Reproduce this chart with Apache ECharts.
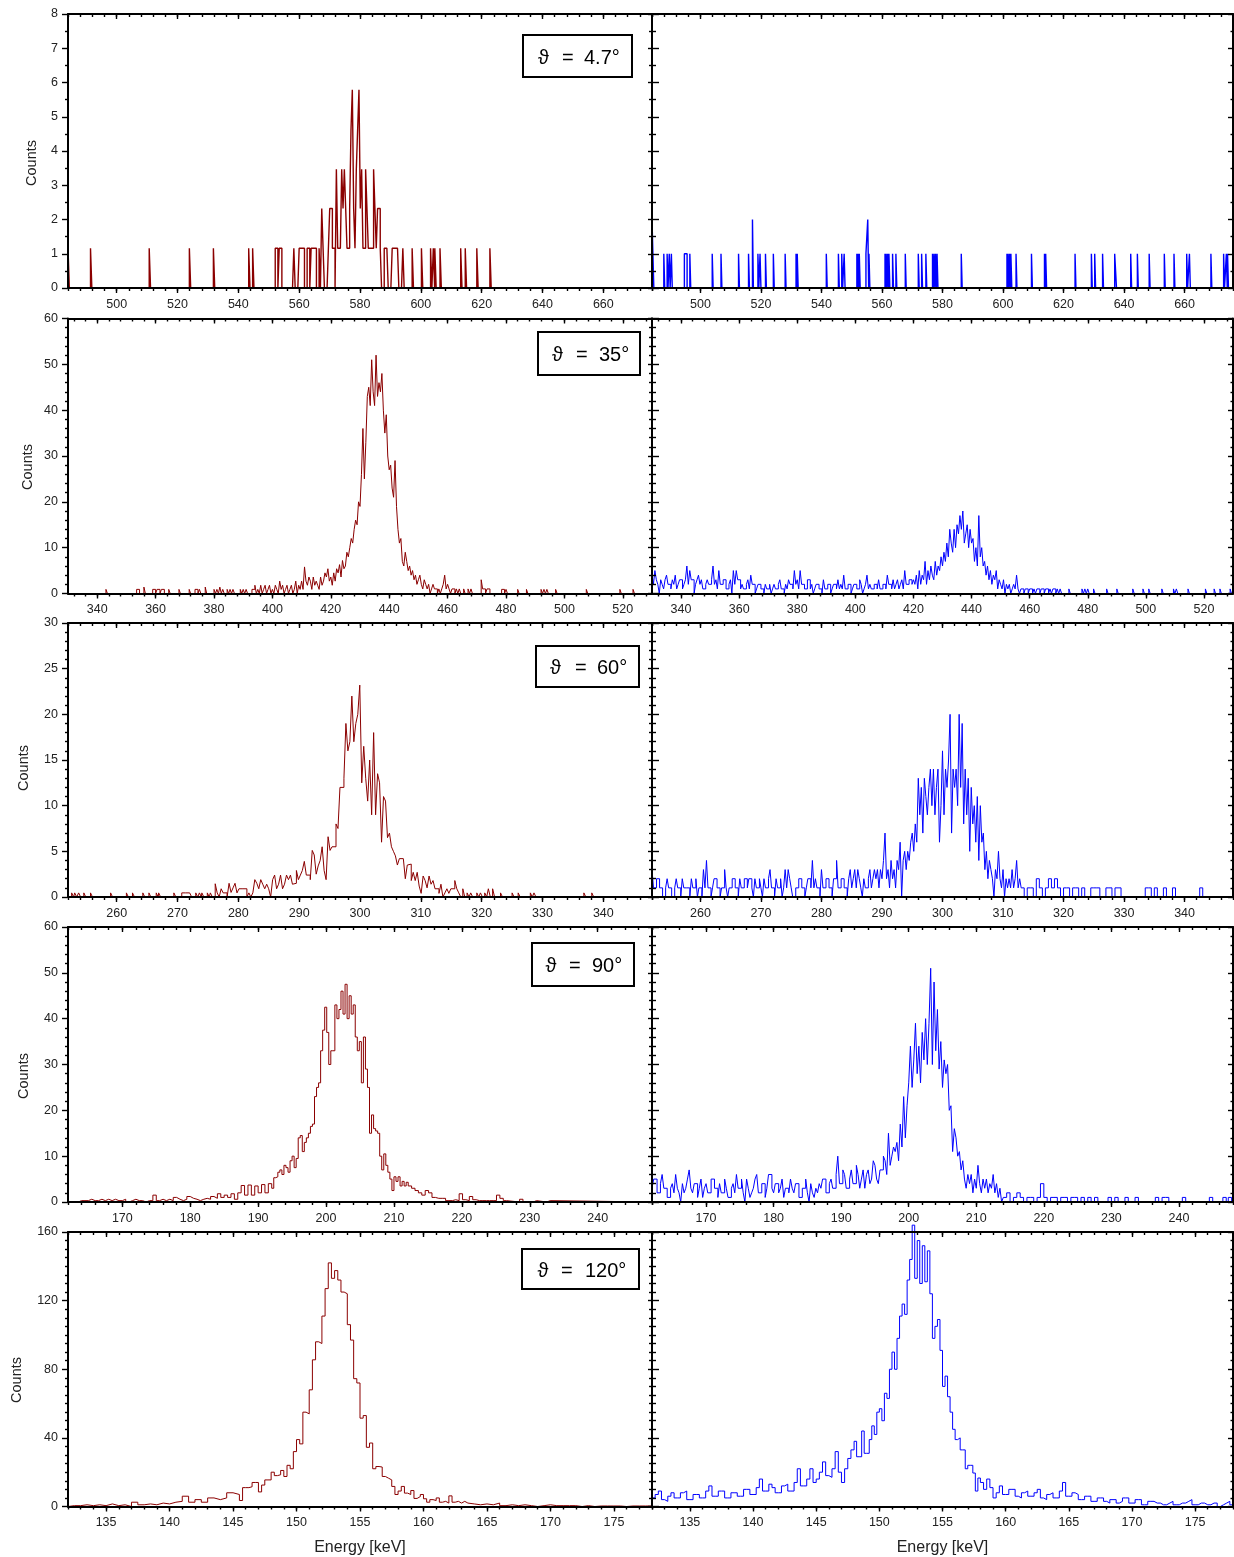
<!DOCTYPE html>
<html><head><meta charset="utf-8">
<script src="https://cdn.jsdelivr.net/npm/echarts@6/dist/echarts.min.js"></script>
<style>html,body{margin:0;padding:0;background:#fff}#c{width:1234px;height:1557px}</style>
</head><body><div id="c"></div>
<script>
const FONT = "'Liberation Sans', Arial, Helvetica, sans-serif";
const RED = '#8b0000', BLUE = '#0000ff';

// ---------- tick labels ----------
const r1_xticks = [500,520,540,560,580,600,620,640,660];
const r2_xticks = [340,360,380,400,420,440,460,480,500,520];
const r3_xticks = [260,270,280,290,300,310,320,330,340];
const r4_xticks = [170,180,190,200,210,220,230,240];
const r5_xticks = [135,140,145,150,155,160,165,170,175];
const angleLabels = ['4.7°','35°','60°','90°','120°'];
const yName = 'Counts';
const xName = 'Energy [keV]';

// ---------- row 1 (4.7 deg) ----------
const r1L_E = [484.0,491.4,510.7,523.9,531.8,543.4,544.7,600.2,603.2,604.1,604.6,606.3,613.1,614.6,618.4,622.7];
const r1L_V = [1.16,1.16,1.16,1.16,1.16,1.16,1.16,1.16,1.16,1.16,1.16,1.16,1.16,1.16,1.16,1.16];
const r1L_dense = [1.16,1.16,0,1.16,1.16,0,0,0,0,0, 0,0,0,0,1.16,0,0,0,1.16,1.16,
  1.16,1.16,0,0,1.16,1.16,0,1.16,1.16,1.16, 1.16,0,0,1.16,0,2.32,1.16,0,0,0,
  1.16,2.32,2.32,1.16,1.16,0,3.47,1.16,1.16,1.16, 3.47,2.32,3.47,2.32,1.16,1.16,2.32,4.63,5.79,2.32,
  1.16,3.47,4.63,5.79,2.32,3.47,1.16,1.16,3.47,2.32, 1.16,1.16,1.16,1.16,3.47,2.32,1.16,2.32,2.32,1.16,
  0,0,1.16,1.16,1.16,0,0,0,1.16,1.16, 1.16,1.16,1.16,0,0,0,1.16,0,0,0, 0,0,0,1.16];
const r1R_E = [484.0,484.3,487.9,489.0,489.7,490.4,494.7,495.0,495.3,496.5,503.9,506.8,512.6,515.9,517.2,519.0,519.7,521.5,524.1,528.0,531.6,532.0,541.6,545.6,546.7,547.5,551.7,552.1,552.5,554.7,555.0,555.3,555.7,561.0,561.4,561.9,562.3,563.5,564.6,567.7,572.0,573.1,574.5,576.7,577.2,577.7,578.2,586.2,601.3,601.7,602.2,602.6,604.3,609.4,613.7,614.1,623.8,629.2,630.3,632.9,636.9,637.2,642.2,644.4,648.3,653.3,656.5,660.7,661.6,668.7,672.9,673.8,674.2];
const r1R_V = [2,1,1,1,1,1,1,1,1,1, 1,1,1,1,2,1,1,1,1,1, 1,1,1,1,1,1,1,1,1,1, 1,2,1,1,1,1,1,1,1,1, 1,1,1,1,1,1,1,1,1,1, 1,1,1,1,1,1,1,1,1,1, 1,1,1,1,1,1,1,1,1,1, 1,1,1];

// ---------- row 2 (35 deg) ----------
const r2L_preE = [343,353.5,354,356,359,359.5,360.5,361,362,362.5,364.5,368,371.5,373.5,374,375,377,380,381,382,383,384.5,385.5,386.5,389,390,391,393,393.5,394];
const r2L_preV = [0.9,0.9,0.9,1.4,0.9,0.9,0.9,0.9,0.9,0.9,0.9,0.9,0.9,0.9,0.9,0.9,1.4,0.9,0.9,1.4,0.9,0.9,0.9,0.9,0.9,0.9,0.9,0.9,0.9,1.8];
const r2L_dense = [0.9,0,1.8,0,0.9,1.8,0,0.9,1.8,0, 0.9,0,1.8,0.9,0,2.7,0.9,1.8,0,0.9, 1.8,0,0.9,1.8,0,0.9,2.7,0,1.8,0.9,
  2.7,0.9,5.8,2.7,1.8,3.6,2.7,0.9,3.6,1.8, 2.7,1.8,0.9,3.6,1.8,2.7,4.5,3.6,5.4,2.7,
  3.6,1.8,4.5,2.7,5.4,4.5,6.3,3.6,7.2,5.4,
  6,9,8,10,12,11,14,16,15,20, 19,26,36,25,33,43,45,41,51,44, 41,52,43,46,44,48,40,35,39,30,
  27,28,23,21,29,19,14,11,12,7, 6,9,7,5,6,4,5,3,4,2, 3,4,2,1,3,2,1,2,0,1,
  2,1,1,0,1,0,1,2,4,1, 2,1,0,1,1,0,1,0,1,0, 0,1,0,0,1,0,1,0,0,0, 0,0,0,3,1,1,0,1,1,0];
const r2L_postE = [478.5,479,480,484,487,492,493,494,497,507.5,519,523.5];
const r2L_postV = [0.9,0.9,0.9,0.9,0.9,0.9,0.9,0.9,0.9,0.9,0.9,0.9];
const r2R_bg = [4,2, 5,3, 2,0, 3,2, 1,3, 4,2, 2,1, 3,2, 4,1, 2,3,
  3,1, 2,3, 6,2, 5,3, 3,0, 2,3, 4,2, 3,1, 1,2, 3,2,
  2,3, 6,2, 3,1, 5,2, 2,3, 3,1, 1,2, 3,0, 5,2, 5,3,
  3,1, 2,1, 1,2, 3,1, 4,2, 2,0, 1,2, 2,1, 1,0, 2,1,
  1,2, 0,1, 2,1, 1,2, 3,1, 1,0, 2,1, 3,2, 2,1, 5,2,
  3,1, 5,2, 2,1, 1,3, 3,1, 2,0, 1,2, 2,1, 1,0, 3,1,
  1,2, 2,0, 1,2, 2,1, 3,1, 2,1, 4,1, 1,2, 2,0, 1,2,
  2,1, 1,3, 2,0, 1,2, 4,1, 2,1, 1,2, 2,1, 3,1, 1,2,
  2,1, 4,2, 2,1, 3,1, 2,3, 1,2, 3,1, 5,2, 2,3, 3,2];
const r2R_peak = [3,2,4,1,5,2,4,3,7,2, 5,3,6,4,3,7,4,6,5,8, 6,9,7,11,8,14,11,9,14,10, 15,13,17,14,18,11,13,15,10,14,
  11,12,7,10,6,17,8,10,6,7, 4,6,3,5,2,4,3,5,1,3, 2,1,3,0,2,1,2,0,1,2, 1,4,1,0,1,1,0,1,1,0,
  1,1,0,1,0,1,1,0,1,1, 0,1,1,0,1,0,1,1,0,1];
const r2R_postE = [470.5,473.5,478,479,480,482,486.5,490,495.5,499,501,505.5,509.5,510.5,514.5,520.5,523.5,525.5,529];
const r2R_postV = [1,1,1,1,1,1,1,1,1,1,1,1,1,1,1,1,1,1,1];

// ---------- row 3 (60 deg) ----------
const r3L_preE = [252.6,253.1,253.75,254.6,255.7,259.0,261.6,262.6,264.3,265.3,266.5,266.9,269.4,273.0,273.6,274.0,274.9,275.4];
const r3L_preV = [0.45,0.45,0.45,0.45,0.45,0.45,0.45,0.45,0.45,0.45,0.45,0.45,0.45,0.45,0.45,0.45,0.45,0.45];
const r3L_run = [0.45,0.45,0.45,0.45,0.45];
const r3L_dense = [1.45,0.45,0,0.9,0.45,0.45,0,1.5,0.5,1.0, 1.5,0.45,0.9,0.9,0.9,0.9,0,0.45,0,0.45,
  1.9,1.5,0.9,1.9,1.4,0.9,1.4,0.9,0,1.9, 2.4,0.9,1.4,2.4,0.9,1.4,2.4,1.9,2.4,1.4,
  1.5,2.9,1.9,2.4,2.9,3.9,2.4,2.4,1.9,5.1, 4.6,2.5,3.4,4.0,5.5,2.9,1.9,6.6,5.1,5.5,
  5.5,8.0,7.5,12,12,13,19,16,17,22, 17,19,20,23.2,12.5,16.5,13,10.5,15,9,
  18,9,13.5,12.5,6,11,10.5,6.5,7,5.5, 5,4.5,3.5,4.2,4.2,4.2,2,3.5,3.6,1.8,
  2.7,1.8,2.7,1.2,0.4,2.3,1.8,1.0,2.3,1.4, 1.8,0.9,0.9,0.4,1.4,0,0.45,0.9,0.4,0.9, 0.9,1.8,0.9,0.45];
const r3L_postE = [316.9,317.6,318.2,319.2,319.8,320.5,321.1,321.8,323.1,325,326,328,328.6,336.8,338.1];
const r3L_postV = [0.9,0.45,0.45,0.45,0.45,0.45,0.9,0.9,0.45,0.45,0.45,0.45,0.45,0.45,0.45];
const r3R_bg = [3,1, 1,2, 2,1, 1,0,
  0,1, 2,1, 1,0, 0,1, 2,1, 1,0, 2,1, 1,1, 1,0, 2,1, 1,2, 0,1,
  1,0, 3,1, 4,1, 1,0, 1,2, 2,1, 1,0, 1,1, 3,1, 0,1,
  1,2, 2,1, 1,0, 2,1, 1,2, 2,1, 2,2, 1,0, 2,1, 1,2,
  1,0, 2,1, 1,2, 3,1, 1,0, 2,1, 1,2, 0,1, 3,1, 3,2,
  1,0, 0,1, 1,2, 2,1, 1,0, 1,2, 2,1, 4,1, 2,1, 1,0,
  3,1, 1,2, 2,1, 1,0, 2,2, 4,1, 1,2, 2,1, 1,0, 2,3,
  1,2, 3,1, 3,2, 1,0, 2,1, 1,2, 3,1, 2,3];
const r3R_peak = [2,3,1,3, 2,4,7,2, 3,1,4,2, 3,1,4,3, 6,0,4,5, 3,5,4,6, 7,5,8,6, 13,9,12,7,
  13,11,9,12, 14,10,14,9, 12,14,6,10, 16,9,14,12, 15,20,7,14, 12,14,10,20, 12,19,8,14,
  9,13,5,12, 8,10,6,11, 4,10,6,7, 3,5,2,4, 3,2,0,3, 2,5,2,1, 3,0,2,1, 2,1,3,1, 2,4,1,2];
const r3R_tail = [1,0,1,1,0,2,1,0,1,2,1,2,1,0,1,1,0,1,1,0,1];
const r3R_postE = [324.5,325,325.5,327,327.5,328.5,329,333.5,334,335,336.5,338,342.5];
const r3R_postV = [1,1,1,1,1,1,1,1,1,1,1,1,1];

// ---------- row 4 (90 deg) ----------
const r4L_a = [0.3,0.3,0.3,0.6,0.3,0.3,0.6,0.3,0.6,0.3, 0.6,0.3,0.3,0.6,0,0.3,0.6,0.3,0.3,0,
  0.3,0.3,1.5,0.3,0.6,0.3,0.6,0.3,1.0,0.6, 0.3,0.6,1.2,0.8,0.6,0.3,0.6,0.8,0.6,1.2,
  0.8,1.8,1.0,1.5,1.0,1.8,0.6,2.0,3.6,1.5, 3.7,1.5,3.5,2.0,3.8,2.0,4.0];
const r4L_b = [3.0,5.3,5.5,6.5,7.0,6.0,8.0,7.5,6.5,9.0, 10,7.5,9.5,14,14.5,11,13,14,15,16.5,
  17,23,25,26,33,37.5,42.5,37,30,33, 33,43,40,42,46,41,47.5,40,45,41,
  43,36,33,35,26,36,29,25,15,19, 16,15.5,15,10,7,10.5,8,6.5,5,2.5, 5.5,4.5,5.5,3.5,4.5,3.5,4.3];
const r4L_c = [3.5,3.0,2.5,2.0,1.5,2.5,2.0,1.0,0.8,0.8, 0.8,0.3,0.3,0.5,0.3,1.8,0.5,0.3,1.2,0.5,
  0.3,0.3,0.3,0.3,0.3,0.3,1.5,0.8,0.3];
const r4L_postE = [228.5,230.5,232.5];
const r4L_postV = [0.6,0.3,0.3];
const r4R_a = [3,5, 5,2, 2,4, 6,3, 3,1, 1,3, 4,2, 6,3, 2,0, 4,2,
  3,5, 7,3, 2,4, 4,1, 3,5, 1,3, 4,2, 2,5, 5,3, 3,1,
  4,2, 2,5, 3,1, 1,3, 4,2, 6,3, 3,5, 2,0, 5,3, 1,2,
  3,5, 6,2, 2,4, 4,1, 3,6, 6,3, 2,4, 4,2, 3,5, 1,3,
  3,2, 5,3, 2,4, 4,1, 1,3, 3,5, 2,0, 4,2, 1,3, 2,4,
  3,5, 5,2, 2,4, 5,3, 3,6, 10,4, 4,7, 6,3, 3,5, 7,4,
  4,8, 6,3, 5,7, 3,6, 7,4, 5,9, 8,5, 4,7, 7,10, 9,6,
  15,8, 10,12];
const r4R_b = [11,13,9,17,12,23,14,21, 26,34,25,31,39,28,34,26, 37,31,40,30,39,51,30,48, 33,42,29,35,25,31,28,30,
  20,21,11,16,14,10,11,7, 9,5,3,6,4,6,2,5, 3,8,4,2,5,3,5,2, 4,3,6,2,4,1,3,0];
const r4R_c = [1,2,0,1,2,1,0,1,1,0, 1,4,1,0,1,1,0,1,1,0, 1,1,0,1];
const r4R_postE = [226.5,227.5,229.5,230.5,232,233.5,236.5,237.5,238,240.5,244.5,246.5,247.3];
const r4R_postV = [1,1,1,1,1,1,1,1,1,1,1,1,1];

// ---------- row 5 (120 deg) ----------
const r5L_a = [0.5,0.5,1,0.5,1,0.5,1.5,0.5,1,0, 2.5,1,1.5,1,2,1.5,2.5,3,6,2.5, 4,2.5,5,4,5,8,7];
const r5L_b = [3.5,11,11,11.5,14,14,8.5,12.5,15.5,15.5, 20,18,18.5,21,17.5,24,22,32,39,36.5,
  55,54,68,85.5,96,95,111,127,142,133, 137.5,132,125,124,106,97,74.5,72,51.5,53,
  34.5,37,22,23.3,23,17.5,16.5,15.5,11.7,7, 9,11.7,7.8,7,9.3,4.7,5.8,7,4.5,2.5,
  4,3.5,5,2.5,3,2,6.2,2.5,3,2, 3,2];
const r5L_c = [1.5,1,1.5,1,2,0.5,1,0.5,1,0.5, 0,0.5,1,0.5,0.5,0.5,0.5,0,0.5,0, 0.3,0.3,0.3,0.3,0,0.3,0.3,0.3,0.3];
const r5R_a = [5,7, 9,4, 3,6, 8,5, 5,8, 9,4, 4,7, 7,5, 5,9, 12,6,
  6,9, 9,5, 5,8, 8,6, 6,10, 10,7, 7,11, 16,9, 9,13, 11,8,
  8,12, 13,9, 9,14, 22,12, 12,16, 22,14, 16,20, 26,18, 17,22, 32,20,
  14,22, 28,33];
const r5R_b = [38,29,29,44,31,31,39,47,42,55, 57,50,66,63,80,90,80,98,111,118,
  112,132,144,164,133,155,130,152,131,149, 124,98,105,109,91,70,76,64,55,45,
  39,40,33,33,22,24,24,19.5,9,16.6];
const r5R_c = [14,10, 16,11, 5,8, 12,7, 7,10, 10,6, 5,8, 9,6, 6,8, 10,5,
  4,7, 8,5, 5,9, 14,6, 6,8, 7,4, 4,6, 6,3, 3,5, 5,3,
  2,4, 4,2, 3,5, 5,2, 2,4, 4,1, 1,3, 3,2, 2,1, 1,2,
  3,1, 1,2, 2,3, 4,1, 1,2, 2,1, 1,2, 2,0, 1,2, 3,1];

// ---------- histogram helpers ----------
function seg(start, width, vals){ return vals.map((v,i)=>({x:start + i*width, w:width, v:v})); }
function spk(E, V, width){ return E.map((e,i)=>({x:e, w:width, v:V[i]})); }
function histo(list, xmin, xmax){
  const b = list.slice().sort((a,c)=>a.x-c.x);
  const pts = [[xmin,0]];
  let end = null;
  for (const q of b){
    let x = q.x;
    if (end !== null){
      if (x > end + 1e-6) pts.push([end,0]); else x = end;
    }
    pts.push([x,q.v]);
    end = x + q.w;
  }
  if (end !== null) pts.push([end,0]);
  pts.push([xmax,0]);
  return pts;
}

const rows = [
 {top:14, h:274, xmin:484, xmax:676, xt:r1_xticks, xminor:4, ymax:8, yint:1, ysplit:2, counts:[31.5,163], box:[523,35,109,42], offs:[15,39,61], lw:1.4,
  L:[...spk(r1L_E,r1L_V,0.437), ...seg(552.13,0.437,r1L_dense)],
  R:[...spk(r1R_E,r1R_V,0.3)]},
 {top:318.5, h:275, xmin:330, xmax:530, xt:r2_xticks, xminor:4, ymax:60, yint:10, ysplit:5, counts:[28,467], box:[538,332,102,43], offs:[14,38,61], lw:1,
  L:[...spk(r2L_preE,r2L_preV,0.5), ...seg(395,0.5,r2L_dense), ...spk(r2L_postE,r2L_postV,0.5)],
  R:[...seg(330,0.5,r2R_bg), ...seg(420,0.5,r2R_peak), ...spk(r2R_postE,r2R_postV,0.5)]},
 {top:623, h:274, xmin:252, xmax:348, xt:r3_xticks, xminor:2, ymax:30, yint:5, ysplit:5, counts:[24,768], box:[536,646,103,41], offs:[14,39,61], lw:1,
  L:[...spk(r3L_preE,r3L_preV,0.3255), ...seg(270.7,0.3255,r3L_run), ...seg(276.2,0.3255,r3L_dense), ...spk(r3L_postE,r3L_postV,0.3255)],
  R:[...seg(252,0.25,r3R_bg), ...seg(289,0.25,r3R_peak), ...seg(313,0.5,r3R_tail), ...spk(r3R_postE,r3R_postV,0.5)]},
 {top:927, h:275, xmin:162, xmax:248, xt:r4_xticks, xminor:2, ymax:60, yint:10, ysplit:5, counts:[24,1076], box:[532,943,102,43], offs:[13.5,37,60], lw:1,
  L:[...seg(163.5,0.5,r4L_a), ...seg(192,0.3,r4L_b), ...seg(212.1,0.5,r4L_c), ...spk(r4L_postE,r4L_postV,0.5)],
  R:[...seg(162,0.25,r4R_a), ...seg(198,0.25,r4R_b), ...seg(214,0.5,r4R_c), ...spk(r4R_postE,r4R_postV,0.5)]},
 {top:1232, h:274.5, xmin:132, xmax:178, xt:r5_xticks, xminor:1, ymax:160, yint:40, ysplit:8, counts:[17,1380], box:[522,1249,117,40], offs:[15.5,39,63], lw:1,
  L:[...seg(132,0.5,r5L_a), ...seg(145.5,0.25,r5L_b), ...seg(163.5,0.5,r5L_c)],
  R:[...seg(132,0.25,r5R_a), ...seg(148,0.2,r5R_b), ...seg(158,0.25,r5R_c)]}
];

const option = {animation:false, backgroundColor:'#fff', grid:[], xAxis:[], yAxis:[], series:[], graphic:[]};
const AXL = {color:'#000', width:2};
const TKL = {color:'#000', width:1.4};
const LBL = {fontSize:12.5, color:'#222', fontFamily:FONT};

rows.forEach((r, ri) => {
  const minors = [];
  for (let k = Math.ceil(r.xmin / r.xminor); k * r.xminor <= r.xmax + 1e-9; k++) minors.push(k * r.xminor);
  [0,1].forEach(col => {
    const gi = option.grid.length;
    option.grid.push({left: col===0 ? 68 : 652, top: r.top, width: col===0 ? 584 : 581, height: r.h, containLabel:false});
    const base = {type:'value', gridIndex:gi, min:r.xmin, max:r.xmax, splitLine:{show:false}, z:5, silent:true};
    const xi = option.xAxis.length;
    option.xAxis.push(Object.assign({}, base, {position:'bottom',
      axisLine:{show:true, onZero:false, lineStyle:AXL},
      axisTick:{show:true, inside:false, length:5, lineStyle:TKL, customValues:r.xt},
      axisLabel:Object.assign({show:true, margin:10, customValues:r.xt}, LBL),
      name: ri===4 ? xName : '', nameLocation:'middle', nameGap:33,
      nameTextStyle:{fontSize:16, color:'#222', fontFamily:FONT}}));
    option.xAxis.push(Object.assign({}, base, {position:'bottom',
      axisLine:{show:false, onZero:false}, axisLabel:{show:false},
      axisTick:{show:true, inside:false, length:3, lineStyle:TKL, customValues:minors}}));
    option.xAxis.push(Object.assign({}, base, {position:'top',
      axisLine:{show:true, onZero:false, lineStyle:AXL}, axisLabel:{show:false},
      axisTick:{show:true, inside:true, length:5, lineStyle:TKL, customValues:r.xt}}));
    option.xAxis.push(Object.assign({}, base, {position:'top',
      axisLine:{show:false, onZero:false}, axisLabel:{show:false},
      axisTick:{show:true, inside:true, length:3, lineStyle:TKL, customValues:minors}}));
    const yi = option.yAxis.length;
    option.yAxis.push({type:'value', gridIndex:gi, min:0, max:r.ymax, interval:r.yint, position:'left', z:5, silent:true,
      axisLine:{show:true, onZero:false, lineStyle:AXL},
      axisTick:{show:true, inside: col===1, length: col===0 ? 6 : 7, lineStyle:TKL},
      minorTick:{show:true, splitNumber:r.ysplit, length: col===0 ? 3 : 4, lineStyle:TKL},
      axisLabel:Object.assign({show: col===0, margin:10}, LBL),
      splitLine:{show:false}, minorSplitLine:{show:false}});
    option.yAxis.push({type:'value', gridIndex:gi, min:0, max:r.ymax, interval:r.yint, position:'right', z:5, silent:true,
      axisLine:{show:true, onZero:false, lineStyle:AXL},
      axisTick:{show:true, inside:true, length: col===0 ? 4 : 5, lineStyle:TKL},
      minorTick:{show:true, splitNumber:r.ysplit, length: col===0 ? 3 : 2.5, lineStyle:TKL},
      axisLabel:{show:false}, splitLine:{show:false}, minorSplitLine:{show:false}});
    const color = col===0 ? RED : BLUE;
    option.series.push({type:'line', xAxisIndex:xi, yAxisIndex:yi, step:'end', symbol:'none', showSymbol:false,
      data: histo(col===0 ? r.L : r.R, r.xmin, r.xmax),
      lineStyle:{color:color, width:r.lw}, itemStyle:{color:color}, z:2, silent:true,
      clip: !(ri===4 && col===1)});
  });
  option.graphic.push({type:'text', x:r.counts[0], y:r.counts[1], rotation:Math.PI/2, silent:true,
    style:{text:yName, font:'14.5px ' + FONT, fill:'#222', textAlign:'center', textVerticalAlign:'middle', align:'center', verticalAlign:'middle'}});
  const [bx, by, bw, bh] = r.box;
  const cy = by + bh/2 + 2;
  option.graphic.push({type:'rect', silent:true, z:100, shape:{x:bx, y:by, width:bw, height:bh},
    style:{fill:'#fff', stroke:'#000', lineWidth:2}});
  const parts = ['ϑ', '=', angleLabels[ri]];
  parts.forEach((t, k) => {
    option.graphic.push({type:'text', silent:true, z:101, x:bx + r.offs[k], y:cy,
      style:{text:t, font:'20px ' + FONT, fill:'#000', textAlign:'left', textVerticalAlign:'middle', align:'left', verticalAlign:'middle'}});
  });
});

const chart = echarts.init(document.getElementById('c'), null, {renderer:'canvas'});
chart.setOption(option);
</script></body></html>
